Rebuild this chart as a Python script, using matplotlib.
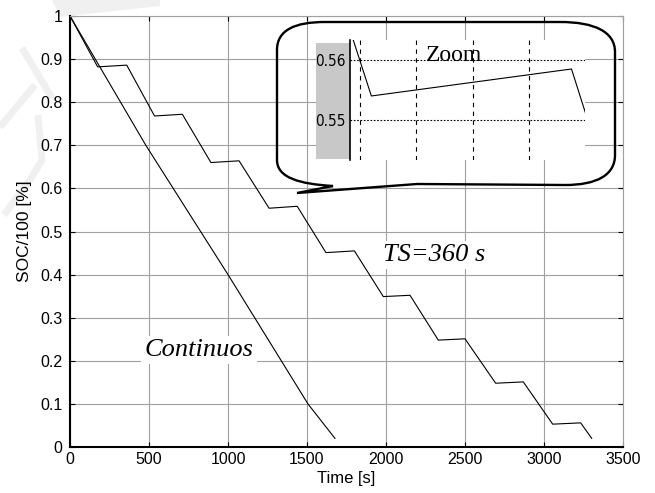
import numpy as np
import matplotlib
matplotlib.use("Agg")
import matplotlib.pyplot as plt
from matplotlib.path import Path
from matplotlib.patches import PathPatch, Rectangle, Polygon
from matplotlib.lines import Line2D

plt.rcParams['font.family'] = ['Liberation Sans', 'DejaVu Sans']

# Datos: SOC continuo
t_cont = [0, 480, 1000, 1506, 1677]
soc_cont = [1.0, 0.7, 0.4, 0.1, 0.02]

# Datos: SOC con muestreo TS = 360 s
t_ts = [0, 175, 359, 535, 711, 892, 1070, 1260, 1438, 1620, 1800,
        1983, 2152, 2331, 2500, 2694, 2869, 3055, 3232, 3302]
soc_ts = [1.0, 0.882, 0.886, 0.768, 0.772, 0.660, 0.664, 0.554, 0.5585, 0.451, 0.455,
          0.349, 0.352, 0.248, 0.251, 0.148, 0.151, 0.053, 0.056, 0.020]

xticks = [0, 500, 1000, 1500, 2000, 2500, 3000, 3500]
yticks = [0, 0.1, 0.2, 0.3, 0.4, 0.5, 0.6, 0.7, 0.8, 0.9, 1.0]
ytick_labels = ['0', '0.1', '0.2', '0.3', '0.4', '0.5', '0.6', '0.7', '0.8', '0.9', '1']

zoom_xticks = [1250, 1300, 1350, 1400]
zoom_yticks = [0.55, 0.56]
zoom_ylabels = ['0.55', '0.56']

W, H = 655, 493


def px(x, y):
    # pixeles de la imagen -> fraccion de figura
    return x / W, 1 - y / H


fig = plt.figure(figsize=(W / 100, H / 100), dpi=100)

# Marca de agua gris clara (fuera de los ejes)
marca = '#f0f0f0'
fig.add_artist(Polygon([px(52, 0), px(160, 0), px(160, 6), px(60, 17)],
                       closed=True, facecolor=marca, edgecolor='none', zorder=-2))
for pts in ([(22, 48), (52, 98)], [(0, 127), (35, 85)],
            [(4, 215), (30, 180), (42, 160), (38, 115)]):
    xs, ys = zip(*[px(a, b) for a, b in pts])
    fig.add_artist(Line2D(xs, ys, color=marca, lw=5, solid_capstyle='butt', zorder=-2))

ax = fig.add_axes([70 / W, 1 - 447 / H, (623 - 70) / W, (447 - 16) / H])
ax.plot(t_cont, soc_cont, color='black', lw=0.8)
ax.plot(t_ts, soc_ts, color='black', lw=0.8)

ax.set_xlim(0, 3500)
ax.set_ylim(0, 1)
ax.set_xticks(xticks)
ax.set_xticklabels([str(v) for v in xticks])
ax.set_yticks(yticks)
ax.set_yticklabels(ytick_labels)
ax.grid(True, color='#a0a0a0', lw=0.8)
ax.tick_params(direction='in', top=True, right=True, length=3.5, width=0.8,
               labelsize=11.5)
ax.tick_params(axis='y', pad=5.5)
for s in ['left', 'bottom']:
    ax.spines[s].set_linewidth(1.5)
for s in ['top', 'right']:
    ax.spines[s].set_color('#a0a0a0')
    ax.spines[s].set_linewidth(0.8)

ax.set_xlabel('Time [s]', fontsize=12, labelpad=3)
ax.set_ylabel('SOC/100 [%]', fontsize=12.5, labelpad=6)

caja = dict(boxstyle='square,pad=0.12', facecolor='white', edgecolor='none')
ax.text(816, 0.225, 'Continuos', fontsize=19, family='Liberation Serif',
        style='italic', ha='center', va='center', bbox=caja)
ax.text(2304, 0.445, 'TS=360 s', fontsize=19, family='Liberation Serif',
        style='italic', ha='center', va='center', bbox=caja)

# Recuadro gris para las etiquetas del zoom
x0, y0 = px(316, 159.3)
fig.add_artist(Rectangle((x0, y0), 34 / W, (159.3 - 42.7) / H,
                         facecolor='#c8c8c8', edgecolor='none', zorder=3))

# Ejes del zoom
axz = fig.add_axes([350 / W, 1 - 160 / H, 235 / W, 120 / H])
axz.set_zorder(4)
axz.plot(t_ts, soc_ts, color='black', lw=0.8)
axz.set_xlim(1241, 1450)
axz.set_ylim(0.54333, 0.56333)
axz.set_xticks(zoom_xticks)
axz.set_xticklabels([])
axz.set_yticks(zoom_yticks)
axz.set_yticklabels(zoom_ylabels)
axz.tick_params(length=0)
axz.tick_params(axis='y', pad=3, labelsize=11)
for lab in axz.get_yticklabels():
    lab.set_fontstretch('condensed')
    lab.set_family(['DejaVu Sans'])
axz.xaxis.grid(True, color='black', lw=0.8, ls=(0, (4, 4)))
axz.yaxis.grid(True, color='black', lw=0.8, ls=(0, (1.5, 1.5)))
for s in ['top', 'right', 'bottom']:
    axz.spines[s].set_visible(False)
axz.spines['left'].set_linewidth(1.2)
axz.text(0.443, 0.867, 'Zoom', transform=axz.transAxes, fontsize=17,
         family='Liberation Serif', ha='center', va='center')

# Globo del zoom
verts = [(277, 160), (277, 50),
         (277, 30), (295, 22), (325, 22),
         (560, 22),
         (595, 22), (615, 32), (615, 52),
         (615, 155),
         (615, 175), (597, 185), (565, 185),
         (417, 184), (297, 193), (333, 186),
         (300, 184), (277, 178), (277, 160)]
codes = [Path.MOVETO, Path.LINETO,
         Path.CURVE4, Path.CURVE4, Path.CURVE4,
         Path.LINETO,
         Path.CURVE4, Path.CURVE4, Path.CURVE4,
         Path.LINETO,
         Path.CURVE4, Path.CURVE4, Path.CURVE4,
         Path.LINETO, Path.LINETO, Path.LINETO,
         Path.CURVE4, Path.CURVE4, Path.CURVE4]
globo = Path([px(a, b) for a, b in verts], codes)
fig.add_artist(PathPatch(globo, facecolor='none', edgecolor='black', lw=1.7,
                         zorder=5, transform=fig.transFigure))

fig.savefig('out.png', dpi=100)
